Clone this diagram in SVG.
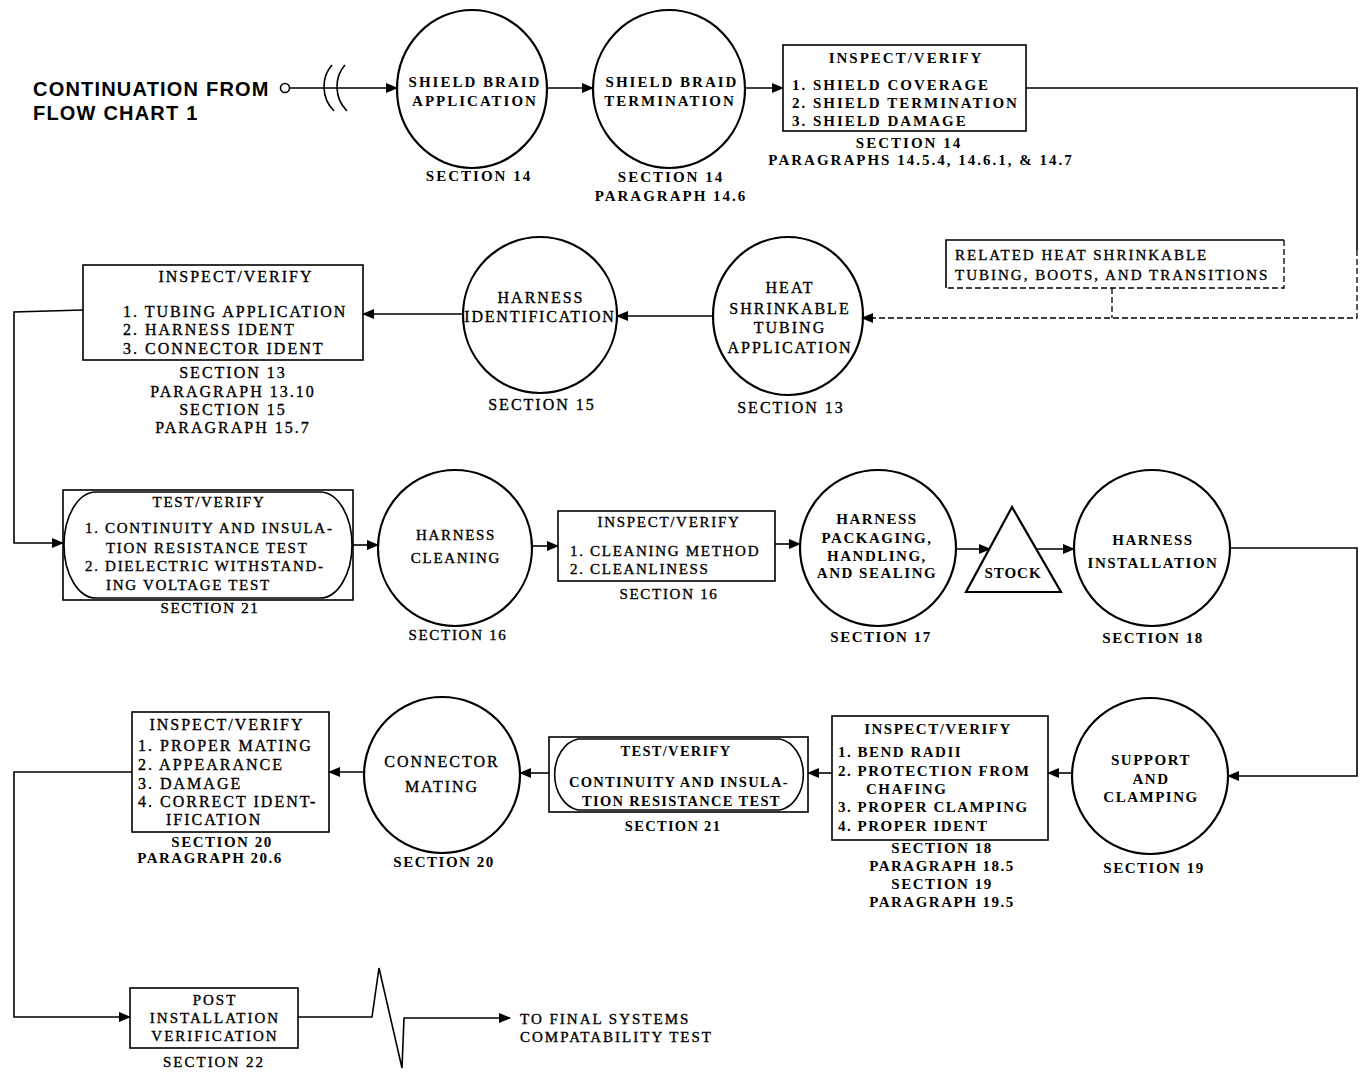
<svg xmlns="http://www.w3.org/2000/svg" width="1365" height="1074" viewBox="0 0 1365 1074">
<defs>
<marker id="ah" markerWidth="12" markerHeight="10" refX="11" refY="5" orient="auto" markerUnits="userSpaceOnUse">
<path d="M0,0 L12,5 L0,10 Z" fill="#000"/>
</marker>
<style>
.s{fill:none;stroke:#000;stroke-width:1.6}
.c{fill:none;stroke:#000;stroke-width:2.2}
.d{fill:none;stroke:#000;stroke-width:1.3;stroke-dasharray:6 3}
text{font-family:"Liberation Serif","DejaVu Serif",serif;font-size:15px;letter-spacing:2px;fill:#000}
.b{font-weight:bold}
.b2{font-weight:bold;letter-spacing:1.5px}
.b3{font-weight:bold;font-size:14.5px;letter-spacing:1.3px}
.r{stroke:#000;stroke-width:0.35;font-size:16px;letter-spacing:2px}
.r2{stroke:#000;stroke-width:0.35;letter-spacing:1.7px}
.m{text-anchor:middle}
.h{font-family:"Liberation Sans","DejaVu Sans",sans-serif;font-weight:bold;font-size:20px;letter-spacing:1.2px}
</style>
</defs>
<rect width="1365" height="1074" fill="#fff"/>

<g id="connectors">
<circle cx="285" cy="88" r="4.5" class="s"/>
<path d="M290 88 H397" class="s" marker-end="url(#ah)"/>
<path d="M332 65 C321 77 321 98 334 111" class="s"/>
<path d="M345 65 C334 77 334 98 347 111" class="s"/>
<path d="M547 88 H593" class="s" marker-end="url(#ah)"/>
<path d="M745 88 H783" class="s" marker-end="url(#ah)"/>
<path d="M1026 88 H1357 V250" class="s"/>
<path d="M1357 250 V318 H862" class="d" marker-end="url(#ah)"/>
<path d="M1112 288 V318" class="d"/>
<path d="M713 316 H617" class="s" marker-end="url(#ah)"/>
<path d="M462 314 H363" class="s" marker-end="url(#ah)"/>
<path d="M83 310 L14 312 V543 H63" class="s" marker-end="url(#ah)"/>
<path d="M353 545 H378" class="s" marker-end="url(#ah)"/>
<path d="M533 546 H558" class="s" marker-end="url(#ah)"/>
<path d="M775 544 H800" class="s" marker-end="url(#ah)"/>
<path d="M956 549 H990" class="s" marker-end="url(#ah)"/>
<path d="M1036 549 H1074" class="s" marker-end="url(#ah)"/>
<path d="M1230 548 H1357 V776 H1228" class="s" marker-end="url(#ah)"/>
<path d="M1072 773 H1048" class="s" marker-end="url(#ah)"/>
<path d="M832 773 H808" class="s" marker-end="url(#ah)"/>
<path d="M549 773 H520" class="s" marker-end="url(#ah)"/>
<path d="M364 772 H329" class="s" marker-end="url(#ah)"/>
<path d="M132 772 H14 V1017 H130" class="s" marker-end="url(#ah)"/>
<path d="M298 1017 H372 L379 968 L402 1068 L404 1018 H510" class="s" marker-end="url(#ah)"/>
</g>

<g id="start">
<text x="33" y="96" class="h">CONTINUATION FROM</text>
<text x="33" y="120" class="h">FLOW CHART 1</text>
</g>

<g id="shield-braid-application">
<ellipse cx="472" cy="89" rx="75" ry="79" class="c"/>
<text x="475" y="87" class="b m">SHIELD BRAID</text>
<text x="475" y="106" class="b m">APPLICATION</text>
<text x="479" y="181" class="b m">SECTION 14</text>
</g>

<g id="shield-braid-termination">
<ellipse cx="669" cy="89" rx="76" ry="79" class="c"/>
<text x="672" y="87" class="b m">SHIELD BRAID</text>
<text x="670" y="106" class="b m">TERMINATION</text>
<text x="671" y="182" class="b m">SECTION 14</text>
<text x="671" y="201" class="b m">PARAGRAPH 14.6</text>
</g>

<g id="inspect-shield">
<rect x="783" y="45" width="243" height="86" class="s"/>
<text x="906" y="63" class="b m">INSPECT/VERIFY</text>
<text x="792" y="90" class="b">1. SHIELD COVERAGE</text>
<text x="792" y="108" class="b">2. SHIELD TERMINATION</text>
<text x="792" y="126" class="b">3. SHIELD DAMAGE</text>
<text x="909" y="148" class="b m">SECTION 14</text>
<text x="921" y="165" class="b m">PARAGRAPHS 14.5.4, 14.6.1, &amp; 14.7</text>
</g>

<g id="related-note">
<path d="M946 288 V240 H1284" class="s"/>
<path d="M1284 240 V288 H946" class="d"/>
<text x="955" y="260" class="r" style="font-size:15px">RELATED HEAT SHRINKABLE</text>
<text x="955" y="280" class="r" style="font-size:15px">TUBING, BOOTS, AND TRANSITIONS</text>
</g>

<g id="heat-shrink">
<ellipse cx="788" cy="316" rx="75" ry="79" class="c"/>
<text x="790" y="293" class="r m">HEAT</text>
<text x="790" y="314" class="r m">SHRINKABLE</text>
<text x="790" y="333" class="r m">TUBING</text>
<text x="790" y="353" class="r m">APPLICATION</text>
<text x="791" y="413" class="r m">SECTION 13</text>
</g>

<g id="harness-identification">
<ellipse cx="540" cy="315" rx="77" ry="78" class="c"/>
<text x="541" y="303" class="r m">HARNESS</text>
<text x="540" y="322" class="r m" style="letter-spacing:1.8px">IDENTIFICATION</text>
<text x="542" y="410" class="r m">SECTION 15</text>
</g>

<g id="inspect-tubing">
<rect x="83" y="265" width="280" height="95" class="s"/>
<text x="236" y="282" class="r m">INSPECT/VERIFY</text>
<text x="123" y="317" class="r">1. TUBING APPLICATION</text>
<text x="123" y="335" class="r">2. HARNESS IDENT</text>
<text x="123" y="354" class="r">3. CONNECTOR IDENT</text>
<text x="233" y="378" class="r m">SECTION 13</text>
<text x="233" y="397" class="r m">PARAGRAPH 13.10</text>
<text x="233" y="415" class="r m">SECTION 15</text>
<text x="233" y="433" class="r m">PARAGRAPH 15.7</text>
</g>

<g id="test-verify-1">
<rect x="63" y="490" width="290" height="110" class="s"/>
<path d="M96 492 H320 A32 53 0 0 1 320 598 H96 A32 53 0 0 1 96 492 Z" class="s"/>
<text x="209" y="507" class="r2 m">TEST/VERIFY</text>
<text x="85" y="533" class="r2">1. CONTINUITY AND INSULA-</text>
<text x="106" y="553" class="r2">TION RESISTANCE TEST</text>
<text x="85" y="571" class="r2">2. DIELECTRIC WITHSTAND-</text>
<text x="106" y="590" class="r2">ING VOLTAGE TEST</text>
<text x="210" y="613" class="r2 m">SECTION 21</text>
</g>

<g id="harness-cleaning">
<ellipse cx="455" cy="548" rx="77" ry="78" class="c"/>
<text x="456" y="540" class="r2 m">HARNESS</text>
<text x="456" y="563" class="r2 m">CLEANING</text>
<text x="458" y="640" class="r2 m">SECTION 16</text>
</g>

<g id="inspect-cleaning">
<rect x="558" y="511" width="217" height="70" class="s"/>
<text x="669" y="527" class="r2 m">INSPECT/VERIFY</text>
<text x="570" y="556" class="r2">1. CLEANING METHOD</text>
<text x="570" y="574" class="r2">2. CLEANLINESS</text>
<text x="669" y="599" class="r2 m">SECTION 16</text>
</g>

<g id="harness-packaging">
<ellipse cx="878" cy="548" rx="78" ry="78" class="c"/>
<text x="877" y="524" class="b2 m">HARNESS</text>
<text x="877" y="543" class="b2 m">PACKAGING,</text>
<text x="877" y="561" class="b2 m">HANDLING,</text>
<text x="877" y="578" class="b2 m">AND SEALING</text>
<text x="881" y="642" class="b2 m">SECTION 17</text>
</g>

<g id="stock">
<path d="M1012 507 L1061 592 H966 Z" class="c"/>
<text x="1013" y="578" class="b m" style="font-size:15px;letter-spacing:1px">STOCK</text>
</g>

<g id="harness-installation">
<ellipse cx="1152" cy="548" rx="78" ry="78" class="c"/>
<text x="1153" y="545" class="b2 m">HARNESS</text>
<text x="1153" y="568" class="b2 m">INSTALLATION</text>
<text x="1153" y="643" class="b2 m">SECTION 18</text>
</g>

<g id="support-clamping">
<ellipse cx="1150" cy="776" rx="78" ry="78" class="c"/>
<text x="1151" y="765" class="b2 m">SUPPORT</text>
<text x="1151" y="784" class="b2 m">AND</text>
<text x="1151" y="802" class="b2 m">CLAMPING</text>
<text x="1154" y="873" class="b2 m">SECTION 19</text>
</g>

<g id="inspect-routing">
<rect x="832" y="716" width="216" height="124" class="s"/>
<text x="938" y="734" class="b2 m">INSPECT/VERIFY</text>
<text x="838" y="757" class="b2">1. BEND RADII</text>
<text x="838" y="776" class="b2">2. PROTECTION FROM</text>
<text x="866" y="794" class="b2">CHAFING</text>
<text x="838" y="812" class="b2">3. PROPER CLAMPING</text>
<text x="838" y="831" class="b2">4. PROPER IDENT</text>
<text x="942" y="853" class="b2 m">SECTION 18</text>
<text x="942" y="871" class="b2 m">PARAGRAPH 18.5</text>
<text x="942" y="889" class="b2 m">SECTION 19</text>
<text x="942" y="907" class="b2 m">PARAGRAPH 19.5</text>
</g>

<g id="test-verify-2">
<rect x="549" y="737" width="259" height="75" class="s"/>
<path d="M578 739 H780 A28 36 0 0 1 780 810 H578 A28 36 0 0 1 578 739 Z" class="s"/>
<text x="676" y="756" class="b3 m">TEST/VERIFY</text>
<text x="569" y="787" class="b3">CONTINUITY AND INSULA-</text>
<text x="582" y="806" class="b3">TION RESISTANCE TEST</text>
<text x="673" y="831" class="b3 m">SECTION 21</text>
</g>

<g id="connector-mating">
<ellipse cx="442" cy="775" rx="78" ry="78" class="c"/>
<text x="442" y="767" class="r m">CONNECTOR</text>
<text x="442" y="792" class="r m">MATING</text>
<text x="444" y="867" class="b2 m">SECTION 20</text>
</g>

<g id="inspect-mating">
<rect x="132" y="712" width="197" height="120" class="s"/>
<text x="227" y="730" class="r m">INSPECT/VERIFY</text>
<text x="138" y="751" class="r">1. PROPER MATING</text>
<text x="138" y="770" class="r">2. APPEARANCE</text>
<text x="138" y="789" class="r">3. DAMAGE</text>
<text x="138" y="807" class="r">4. CORRECT IDENT-</text>
<text x="166" y="825" class="r">IFICATION</text>
<text x="222" y="847" class="b2 m">SECTION 20</text>
<text x="210" y="863" class="b2 m">PARAGRAPH 20.6</text>
</g>

<g id="post-installation">
<rect x="130" y="988" width="168" height="60" class="s"/>
<text x="215" y="1005" class="r m" style="font-size:15px">POST</text>
<text x="215" y="1023" class="r m" style="font-size:15px">INSTALLATION</text>
<text x="215" y="1041" class="r m" style="font-size:15px">VERIFICATION</text>
<text x="214" y="1067" class="r m" style="font-size:15px">SECTION 22</text>
</g>

<g id="end">
<text x="520" y="1024" class="r" style="font-size:15px">TO FINAL SYSTEMS</text>
<text x="520" y="1042" class="r" style="font-size:15px">COMPATABILITY TEST</text>
</g>
</svg>
